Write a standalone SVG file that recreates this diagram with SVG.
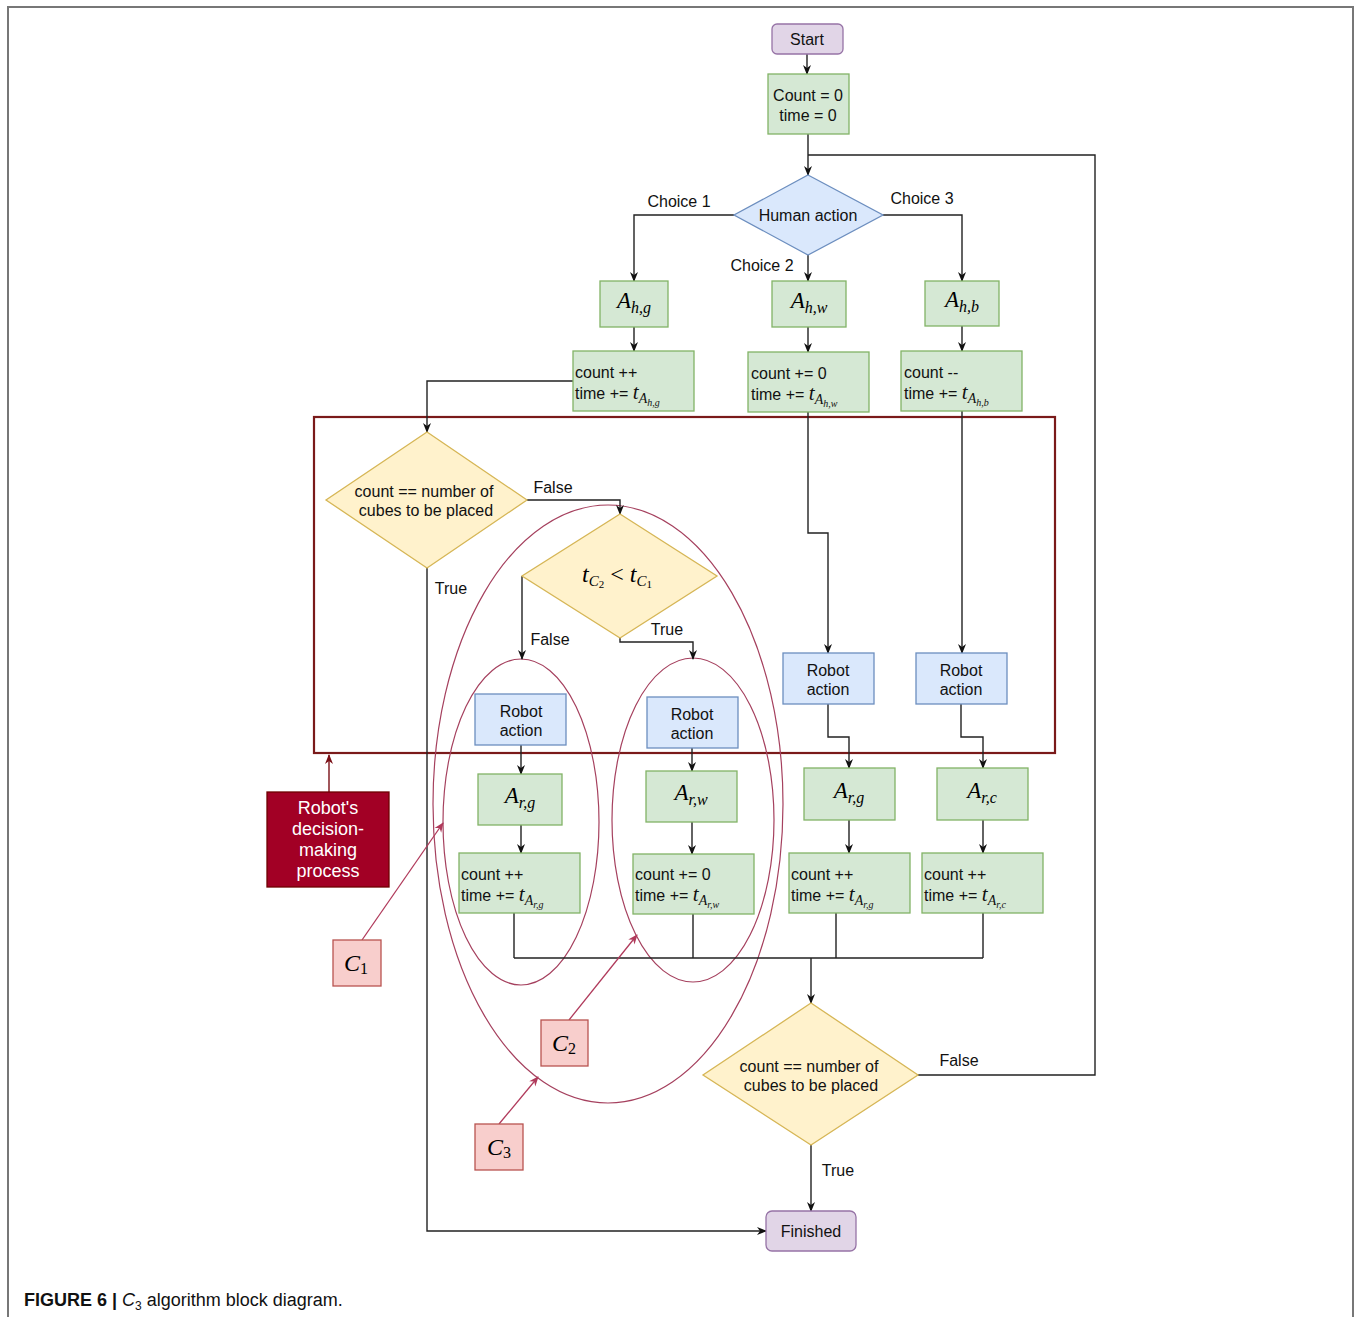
<svg xmlns="http://www.w3.org/2000/svg" width="1356" height="1317" viewBox="0 0 1356 1317">
<defs>
<marker id="ah" markerWidth="10" markerHeight="10" refX="9" refY="5" orient="auto" markerUnits="userSpaceOnUse"><path d="M0,1 L10,5 L0,9 L3,5 z" fill="#111"/></marker>
<marker id="ahc" markerWidth="10" markerHeight="10" refX="9" refY="5" orient="auto" markerUnits="userSpaceOnUse"><path d="M0,1 L10,5 L0,9 L3,5 z" fill="#b03a5b"/></marker>
<marker id="ahr" markerWidth="10" markerHeight="10" refX="9" refY="5" orient="auto" markerUnits="userSpaceOnUse"><path d="M0,1 L10,5 L0,9 L3,5 z" fill="#7a0f16"/></marker>
</defs>
<style>
.t{font-family:"Liberation Sans",Arial,sans-serif;font-size:16px;fill:#111}
.c{text-anchor:middle}
.mi{font-family:"Liberation Serif","DejaVu Serif",serif;font-style:italic}
.mr{font-family:"Liberation Serif","DejaVu Serif",serif}
.green{fill:#d5e8d4;stroke:#82b366;stroke-width:1.3}
.blue{fill:#dae8fc;stroke:#6c8ebf;stroke-width:1.3}
.yel{fill:#fff2cc;stroke:#d6b656;stroke-width:1.3}
.pur{fill:#e1d5e7;stroke:#9673a6;stroke-width:1.3}
.pink{fill:#f8cecc;stroke:#b85450;stroke-width:1.3}
.ln{fill:none;stroke:#222;stroke-width:1.4}
.ell{fill:none;stroke:#a5405e;stroke-width:1.2}
</style>
<rect width="1356" height="1317" fill="#fff"/>
<path d="M8,1317 V7 H1353 V1317" fill="none" stroke="#777" stroke-width="2"/>

<g id="decision-frame"><rect x="314" y="417" width="741" height="336" fill="none" stroke="#7a1a1a" stroke-width="2.2"/></g>

<g id="ellipses">
<ellipse cx="608" cy="804" rx="175" ry="299" class="ell"/>
<ellipse cx="521" cy="822" rx="78" ry="163" class="ell"/>
<ellipse cx="693" cy="820" rx="81" ry="162" class="ell"/>
</g>

<g id="connectors">
<path class="ln" d="M807,54 V74" marker-end="url(#ah)"/>
<path class="ln" d="M808,134 V175" marker-end="url(#ah)"/>
<path class="ln" d="M918,1075 H1095 V155 H808"/>
<path class="ln" d="M734,215 H634 V281" marker-end="url(#ah)"/>
<path class="ln" d="M808,255 V281" marker-end="url(#ah)"/>
<path class="ln" d="M883,215 H962 V281" marker-end="url(#ah)"/>
<path class="ln" d="M634,327 V351" marker-end="url(#ah)"/>
<path class="ln" d="M808,327 V352" marker-end="url(#ah)"/>
<path class="ln" d="M962,326 V351" marker-end="url(#ah)"/>
<path class="ln" d="M573,381 H427 V432" marker-end="url(#ah)"/>
<path class="ln" d="M527,500 H620 V514" marker-end="url(#ah)"/>
<path class="ln" d="M427,568 V1231 H766" marker-end="url(#ah)"/>
<path class="ln" d="M522,576 V659" marker-end="url(#ah)"/>
<path class="ln" d="M620,638 V642 H693 V659" marker-end="url(#ah)"/>
<path class="ln" d="M808,412 V533 H828 V653" marker-end="url(#ah)"/>
<path class="ln" d="M962,411 V653" marker-end="url(#ah)"/>
<path class="ln" d="M521,745 V774" marker-end="url(#ah)"/>
<path class="ln" d="M692,748 V771" marker-end="url(#ah)"/>
<path class="ln" d="M828,704 V737 H849 V768" marker-end="url(#ah)"/>
<path class="ln" d="M961,704 V737 H983 V768" marker-end="url(#ah)"/>
<path class="ln" d="M521,825 V853" marker-end="url(#ah)"/>
<path class="ln" d="M692,822 V854" marker-end="url(#ah)"/>
<path class="ln" d="M849,820 V853" marker-end="url(#ah)"/>
<path class="ln" d="M983,820 V853" marker-end="url(#ah)"/>
<path class="ln" d="M514,913 V958 M693,914 V958 M836,913 V958 M983,913 V958 M514,958 H983"/>
<path class="ln" d="M811,958 V1003" stroke-width="2" marker-end="url(#ah)"/>
<path class="ln" d="M811,1145 V1211" marker-end="url(#ah)"/>
<path d="M329,792 V755" fill="none" stroke="#7a0f16" stroke-width="1.4" marker-end="url(#ahr)"/>
<path d="M362,940 L443,823" fill="none" stroke="#b03a5b" stroke-width="1.3" marker-end="url(#ahc)"/>
<path d="M569,1020 L637,935" fill="none" stroke="#b03a5b" stroke-width="1.3" marker-end="url(#ahc)"/>
<path d="M499,1124 L538,1077" fill="none" stroke="#b03a5b" stroke-width="1.3" marker-end="url(#ahc)"/>
</g>

<g id="edge-labels" class="t">
<text x="679" y="207" class="c">Choice 1</text>
<text x="762" y="271" class="c">Choice 2</text>
<text x="922" y="204" class="c">Choice 3</text>
<text x="553" y="493" class="c">False</text>
<text x="451" y="594" class="c">True</text>
<text x="550" y="645" class="c">False</text>
<text x="667" y="635" class="c">True</text>
<text x="959" y="1066" class="c">False</text>
<text x="838" y="1176" class="c">True</text>
</g>

<g id="start"><rect x="772" y="24" width="71" height="30" rx="5" class="pur"/><text x="807" y="45" class="t c">Start</text></g>
<g id="init"><rect x="768" y="74" width="81" height="60" class="green"/><text x="808" y="101" class="t c">Count = 0</text><text x="808" y="121" class="t c">time = 0</text></g>
<g id="human-action"><polygon points="808,175 883,215 808,255 734,215" class="blue"/><text x="808" y="221" class="t c">Human action</text></g>

<g id="a-h-g"><rect x="600" y="281" width="68" height="46" class="green"/><text x="634" y="308" class="c"><tspan class="mi" font-size="23">A</tspan><tspan class="mi" font-size="16" dy="5">h,g</tspan></text></g>
<g id="a-h-w"><rect x="772" y="281" width="74" height="46" class="green"/><text x="809" y="308" class="c"><tspan class="mi" font-size="23">A</tspan><tspan class="mi" font-size="16" dy="5">h,w</tspan></text></g>
<g id="a-h-b"><rect x="925" y="281" width="74" height="45" class="green"/><text x="962" y="307" class="c"><tspan class="mi" font-size="23">A</tspan><tspan class="mi" font-size="16" dy="5">h,b</tspan></text></g>

<g id="upd-h-g"><rect x="573" y="351" width="121" height="60" class="green"/><text x="575" y="378" class="t">count ++</text><text x="575" y="399" class="t">time += <tspan class="mi" font-size="21">t</tspan><tspan class="mi" font-size="14" dy="4">A</tspan><tspan class="mi" font-size="10" dy="3">h,g</tspan></text></g>
<g id="upd-h-w"><rect x="748" y="352" width="121" height="60" class="green"/><text x="751" y="379" class="t">count += 0</text><text x="751" y="400" class="t">time += <tspan class="mi" font-size="21">t</tspan><tspan class="mi" font-size="14" dy="4">A</tspan><tspan class="mi" font-size="10" dy="3">h,w</tspan></text></g>
<g id="upd-h-b"><rect x="901" y="351" width="121" height="60" class="green"/><text x="904" y="378" class="t">count --</text><text x="904" y="399" class="t">time += <tspan class="mi" font-size="21">t</tspan><tspan class="mi" font-size="14" dy="4">A</tspan><tspan class="mi" font-size="10" dy="3">h,b</tspan></text></g>

<g id="check-1"><polygon points="427,432 527,500 427,568 326,500" class="yel"/><text x="424" y="497" class="t c">count == number of</text><text x="426" y="516" class="t c">cubes to be placed</text></g>
<g id="compare"><polygon points="620,514 717,576 620,638 522,576" class="yel"/><text x="617" y="582" class="c"><tspan class="mi" font-size="24">t</tspan><tspan class="mi" font-size="15" dy="4">C</tspan><tspan class="mr" font-size="11" dy="2">2</tspan><tspan class="mr" font-size="24" dy="-6"> &lt; </tspan><tspan class="mi" font-size="24">t</tspan><tspan class="mi" font-size="15" dy="4">C</tspan><tspan class="mr" font-size="11" dy="2">1</tspan></text></g>

<g id="robot-1"><rect x="475" y="694" width="91" height="51" class="blue"/><text x="521" y="717" class="t c">Robot</text><text x="521" y="736" class="t c">action</text></g>
<g id="robot-2"><rect x="647" y="697" width="91" height="51" class="blue"/><text x="692" y="720" class="t c">Robot</text><text x="692" y="739" class="t c">action</text></g>
<g id="robot-3"><rect x="783" y="653" width="91" height="51" class="blue"/><text x="828" y="676" class="t c">Robot</text><text x="828" y="695" class="t c">action</text></g>
<g id="robot-4"><rect x="916" y="653" width="91" height="51" class="blue"/><text x="961" y="676" class="t c">Robot</text><text x="961" y="695" class="t c">action</text></g>

<g id="a-r-g-1"><rect x="478" y="774" width="84" height="51" class="green"/><text x="520" y="803" class="c"><tspan class="mi" font-size="23">A</tspan><tspan class="mi" font-size="16" dy="5">r,g</tspan></text></g>
<g id="a-r-w"><rect x="646" y="771" width="91" height="51" class="green"/><text x="691" y="800" class="c"><tspan class="mi" font-size="23">A</tspan><tspan class="mi" font-size="16" dy="5">r,w</tspan></text></g>
<g id="a-r-g-2"><rect x="804" y="768" width="91" height="52" class="green"/><text x="849" y="798" class="c"><tspan class="mi" font-size="23">A</tspan><tspan class="mi" font-size="16" dy="5">r,g</tspan></text></g>
<g id="a-r-c"><rect x="937" y="768" width="91" height="52" class="green"/><text x="982" y="798" class="c"><tspan class="mi" font-size="23">A</tspan><tspan class="mi" font-size="16" dy="5">r,c</tspan></text></g>

<g id="upd-r-g-1"><rect x="459" y="853" width="121" height="60" class="green"/><text x="461" y="880" class="t">count ++</text><text x="461" y="901" class="t">time += <tspan class="mi" font-size="21">t</tspan><tspan class="mi" font-size="14" dy="4">A</tspan><tspan class="mi" font-size="10" dy="3">r,g</tspan></text></g>
<g id="upd-r-w"><rect x="633" y="854" width="121" height="60" class="green"/><text x="635" y="880" class="t">count += 0</text><text x="635" y="901" class="t">time += <tspan class="mi" font-size="21">t</tspan><tspan class="mi" font-size="14" dy="4">A</tspan><tspan class="mi" font-size="10" dy="3">r,w</tspan></text></g>
<g id="upd-r-g-2"><rect x="789" y="853" width="121" height="60" class="green"/><text x="791" y="880" class="t">count ++</text><text x="791" y="901" class="t">time += <tspan class="mi" font-size="21">t</tspan><tspan class="mi" font-size="14" dy="4">A</tspan><tspan class="mi" font-size="10" dy="3">r,g</tspan></text></g>
<g id="upd-r-c"><rect x="922" y="853" width="121" height="60" class="green"/><text x="924" y="880" class="t">count ++</text><text x="924" y="901" class="t">time += <tspan class="mi" font-size="21">t</tspan><tspan class="mi" font-size="14" dy="4">A</tspan><tspan class="mi" font-size="10" dy="3">r,c</tspan></text></g>

<g id="check-2"><polygon points="811,1003 918,1075 811,1145 703,1075" class="yel"/><text x="809" y="1072" class="t c">count == number of</text><text x="811" y="1091" class="t c">cubes to be placed</text></g>
<g id="finished"><rect x="766" y="1211" width="90" height="40" rx="6" class="pur"/><text x="811" y="1237" class="t c">Finished</text></g>

<g id="robot-decision"><rect x="267" y="792" width="122" height="95" fill="#a20025" stroke="#6f0000" stroke-width="1.3"/><g class="t c" style="fill:#fff;font-size:18px"><text x="328" y="814">Robot's</text><text x="328" y="835">decision-</text><text x="328" y="856">making</text><text x="328" y="877">process</text></g></g>

<g id="c1"><rect x="333" y="940" width="48" height="46" class="pink"/><text x="356" y="971" class="c"><tspan class="mi" font-size="24">C</tspan><tspan class="mr" font-size="16" dy="3">1</tspan></text></g>
<g id="c2"><rect x="541" y="1020" width="47" height="46" class="pink"/><text x="564" y="1051" class="c"><tspan class="mi" font-size="24">C</tspan><tspan class="mr" font-size="16" dy="3">2</tspan></text></g>
<g id="c3"><rect x="475" y="1124" width="48" height="46" class="pink"/><text x="499" y="1155" class="c"><tspan class="mi" font-size="24">C</tspan><tspan class="mr" font-size="16" dy="3">3</tspan></text></g>

<g id="caption"><text x="24" y="1306" style="font-family:'Liberation Sans',Arial,sans-serif;font-size:18px;fill:#111"><tspan font-weight="bold">FIGURE 6 | </tspan><tspan font-style="italic">C</tspan><tspan font-size="12" dy="4">3</tspan><tspan dy="-4"> algorithm block diagram.</tspan></text></g>
</svg>
